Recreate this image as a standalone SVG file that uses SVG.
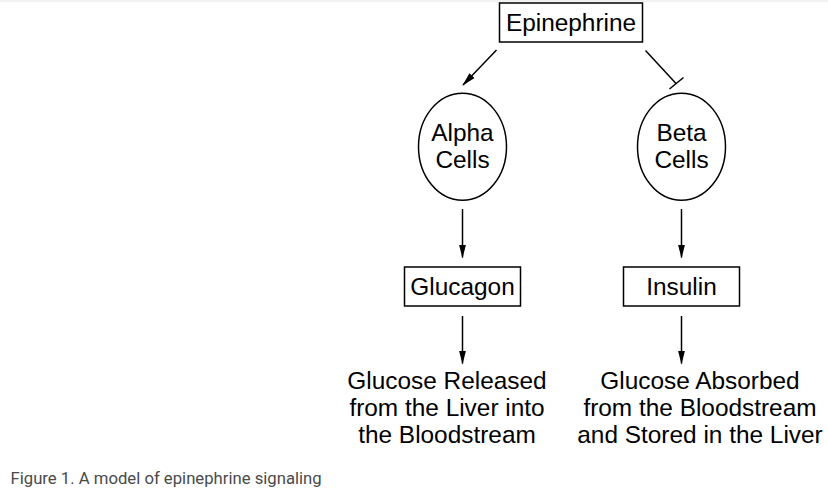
<svg xmlns="http://www.w3.org/2000/svg" width="828" height="490" viewBox="0 0 828 490">
<style>
.box{fill:#fff;stroke:#000;stroke-width:1.5}
.cell{fill:#fff;stroke:#000;stroke-width:1.5}
.t{font-family:"Liberation Sans",Arial,sans-serif;font-size:24.4px;fill:#000;text-anchor:middle}
.ln{stroke:#000;stroke-width:1.5;fill:none}
.cap{font-family:Roboto,"Liberation Sans",sans-serif;font-size:16.7px;fill:#4a4a4a}
</style>
<defs>
<marker id="ah" markerWidth="14" markerHeight="8" refX="13" refY="4" orient="auto" markerUnits="userSpaceOnUse" viewBox="0 0 14 8">
<path d="M0,0.5 L14,4 L0,7.5 Z" fill="#000"/>
</marker>
</defs>
<rect x="0" y="0" width="828" height="490" fill="#fff"/>
<line x1="0" y1="1" x2="828" y2="1" stroke="#ececec" stroke-width="1.5"/>
<g id="epinephrine"><rect class="box" x="499.5" y="3" width="143" height="39"/><text class="t" x="571" y="31">Epinephrine</text></g>
<g id="alpha"><ellipse class="cell" cx="462.5" cy="146.7" rx="44" ry="53.5"/><text class="t" x="462.5" y="141">Alpha</text><text class="t" x="462.5" y="168">Cells</text></g>
<g id="beta"><ellipse class="cell" cx="681.5" cy="146.7" rx="44" ry="53.5"/><text class="t" x="681.5" y="141">Beta</text><text class="t" x="681.5" y="168">Cells</text></g>
<g id="glucagon"><rect class="box" x="404.5" y="267" width="116" height="39"/><text class="t" x="462.5" y="295">Glucagon</text></g>
<g id="insulin"><rect class="box" x="623.5" y="267" width="116" height="39"/><text class="t" x="681.5" y="295">Insulin</text></g>
<g id="released"><text class="t" x="447" y="389">Glucose Released</text><text class="t" x="447" y="416">from the Liver into</text><text class="t" x="447" y="443">the Bloodstream</text></g>
<g id="absorbed"><text class="t" x="700" y="389">Glucose Absorbed</text><text class="t" x="700" y="416">from the Bloodstream</text><text class="t" x="700" y="443">and Stored in the Liver</text></g>
<g id="connectors">
<line class="ln" x1="496.5" y1="50" x2="463" y2="85" marker-end="url(#ah)"/>
<line class="ln" x1="645.5" y1="50.5" x2="676" y2="83.5"/>
<line class="ln" x1="669.5" y1="89" x2="683.5" y2="77.5"/>
<line class="ln" x1="462.5" y1="209" x2="462.5" y2="257.5" marker-end="url(#ah)"/>
<line class="ln" x1="681.5" y1="209" x2="681.5" y2="257.5" marker-end="url(#ah)"/>
<line class="ln" x1="462.5" y1="316" x2="462.5" y2="363.5" marker-end="url(#ah)"/>
<line class="ln" x1="681.5" y1="316" x2="681.5" y2="363.5" marker-end="url(#ah)"/>
</g>
<text class="cap" x="10.5" y="484">Figure 1. A model of epinephrine signaling</text>
</svg>
